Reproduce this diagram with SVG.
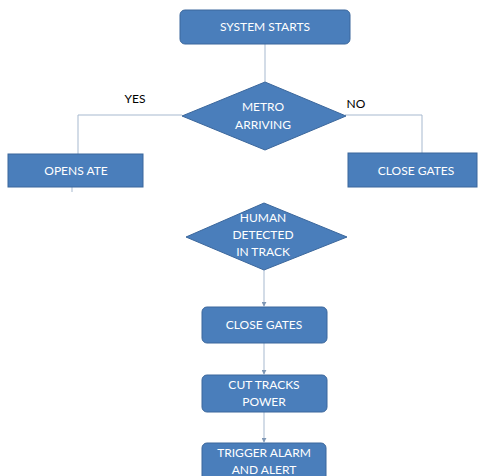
<svg xmlns="http://www.w3.org/2000/svg" width="482" height="476" viewBox="0 0 482 476">
<style>
.n{fill:#4a7ebb;stroke:#3b679c;stroke-width:1}
.t{font-family:Lato,"Open Sans","Liberation Sans",sans-serif;font-size:12px;fill:#ffffff;text-anchor:middle}
.l{font-family:Lato,"Open Sans","Liberation Sans",sans-serif;font-size:12px;fill:#000000;text-anchor:middle}
.c{fill:none;stroke:#a7b9cf;stroke-width:1}
</style>
<defs>
<marker id="a" viewBox="0 0 6 6" refX="5" refY="3" markerWidth="5" markerHeight="5" orient="auto">
<path d="M0,0 L6,3 L0,6 z" fill="#7f97b5"/>
</marker>
</defs>
<rect width="482" height="476" fill="#ffffff"/>
<g id="connectors">
<path class="c" d="M265,44 V82"/>
<path class="c" d="M182,115 H78 V154"/>
<path class="c" d="M345,115 H422 V153"/>
<path class="c" d="M72,187 V192"/>
<path class="c" d="M264,270 V306" marker-end="url(#a)"/>
<path class="c" d="M264,343 V374" marker-end="url(#a)"/>
<path class="c" d="M264,412 V442" marker-end="url(#a)"/>
</g>
<g id="start">
<rect class="n" x="180" y="10" width="170" height="34" rx="5"/>
<text class="t" x="265" y="31">SYSTEM STARTS</text>
</g>
<g id="metro">
<polygon class="n" points="265,82 346,116 265,150 182,116"/>
<text class="t" x="263" y="111">METRO</text>
<text class="t" x="263" y="129">ARRIVING</text>
</g>
<g id="yes-label"><text class="l" x="135" y="103">YES</text></g>
<g id="no-label"><text class="l" x="356" y="108">NO</text></g>
<g id="opens">
<rect class="n" x="8" y="154" width="135" height="33"/>
<text class="t" x="76" y="175">OPENS ATE</text>
</g>
<g id="close-right">
<rect class="n" x="348" y="153" width="129" height="34"/>
<text class="t" x="416" y="175">CLOSE GATES</text>
</g>
<g id="human">
<polygon class="n" points="264,203 347,237 264,270 186,237"/>
<text class="t" x="263" y="222">HUMAN</text>
<text class="t" x="263" y="239">DETECTED</text>
<text class="t" x="263" y="256">IN TRACK</text>
</g>
<g id="close-mid">
<rect class="n" x="202" y="307" width="125" height="36" rx="5"/>
<text class="t" x="264" y="329">CLOSE GATES</text>
</g>
<g id="cut">
<rect class="n" x="202" y="375" width="125" height="37" rx="5"/>
<text class="t" x="264" y="389">CUT TRACKS</text>
<text class="t" x="264" y="406">POWER</text>
</g>
<g id="trigger">
<rect class="n" x="202" y="443" width="124" height="40" rx="5"/>
<text class="t" x="264" y="457">TRIGGER ALARM</text>
<text class="t" x="264" y="474">AND ALERT</text>
</g>
</svg>
